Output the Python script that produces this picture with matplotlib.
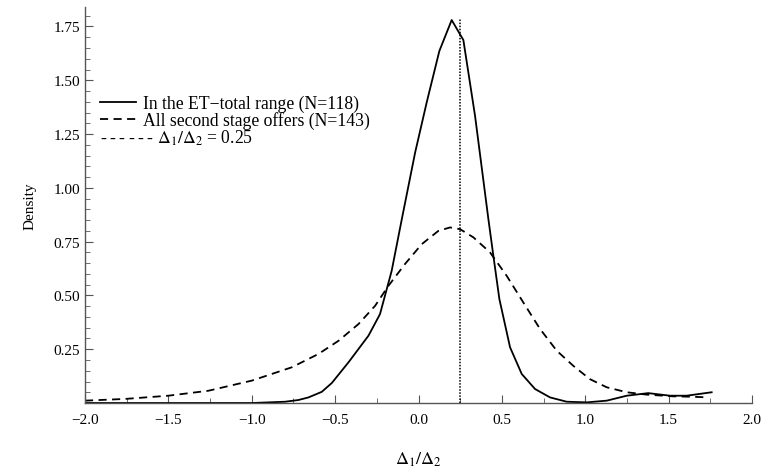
import matplotlib
matplotlib.use("Agg")
from matplotlib import pyplot as plt
from matplotlib.ticker import MultipleLocator

plt.rcParams['font.family'] = ['Liberation Serif', 'DejaVu Serif']
plt.rcParams['mathtext.fontset'] = 'stix'

# solid curve: in the ET-total range (N=118)
et_x = [-2.0, -1.5, -1.0, -0.80, -0.72, -0.66, -0.58, -0.52, -0.42, -0.30,
        -0.231, -0.161, -0.10, -0.02, 0.05, 0.125, 0.199, 0.269, 0.339, 0.419,
        0.449, 0.485, 0.549, 0.619, 0.699, 0.789, 0.889, 1.009, 1.129, 1.249,
        1.378, 1.508, 1.608, 1.758]
et_y = [0.0, 0.0, 0.0, 0.006, 0.014, 0.026, 0.052, 0.093, 0.189, 0.313,
        0.413, 0.614, 0.855, 1.165, 1.40, 1.636, 1.78, 1.687, 1.335, 0.855,
        0.684, 0.483, 0.259, 0.135, 0.065, 0.026, 0.006, 0.003, 0.011, 0.034,
        0.046, 0.034, 0.034, 0.050]

# dashed curve: all second stage offers (N=143)
all_x = [-2.0, -1.76, -1.50, -1.26, -1.0, -0.76, -0.60, -0.48, -0.36, -0.26,
         -0.18, -0.081, 0.019, 0.119, 0.189, 0.249, 0.329, 0.429, 0.529,
         0.628, 0.729, 0.829, 0.928, 1.028, 1.129, 1.249, 1.368, 1.528,
         1.648, 1.738]
all_y = [0.011, 0.019, 0.034, 0.057, 0.104, 0.166, 0.228, 0.289, 0.367, 0.452,
         0.545, 0.646, 0.738, 0.800, 0.816, 0.808, 0.770, 0.700, 0.591,
         0.468, 0.344, 0.243, 0.173, 0.111, 0.073, 0.050, 0.039, 0.031,
         0.029, 0.026]

ratio = 0.25
ratio_top = 1.79

fig = plt.figure(figsize=(7.63, 4.77), dpi=100)
ax = fig.add_axes([0.1114, 0.153, 0.8742, 0.83])

ax.plot(et_x, et_y, color="black", linewidth=1.3, label="In the ET\u2212total range (N=118)")
ax.plot(all_x, all_y, color="black", linewidth=1.3, dashes=(4.5, 3),
        label="All second stage offers (N=143)")
ax.vlines(ratio, 0, ratio_top, color="black", linewidth=1.1, linestyles=(0, (1, 1)))

ax.set_xlim(-2.0, 2.0)
ax.set_ylim(0, 1.84)
ax.xaxis.set_major_locator(MultipleLocator(0.5))
ax.xaxis.set_minor_locator(MultipleLocator(0.25))
ax.set_yticks([0.25, 0.5, 0.75, 1.0, 1.25, 1.5, 1.75])
ax.yaxis.set_minor_locator(MultipleLocator(0.05))
ax.xaxis.set_major_formatter(plt.FuncFormatter(lambda v, p: ("%.1f" % v).replace("-", "\u2212")))
ax.yaxis.set_major_formatter(plt.FuncFormatter(lambda v, p: "%.2f" % v))

for s in ["top", "right"]:
    ax.spines[s].set_visible(False)
for s in ["left", "bottom"]:
    ax.spines[s].set_color("#555555")
    ax.spines[s].set_linewidth(1.0)
ax.tick_params(which="both", direction="in", color="#555555", labelsize=11)
ax.tick_params(which="major", length=6)
ax.tick_params(which="minor", length=3.5)
ax.tick_params(axis="x", pad=7)

ax.set_ylabel("Density", fontsize=11, labelpad=12)
ax.set_xlabel(r"$\Delta_1/\Delta_2$", fontsize=13, labelpad=17)

ax.legend(loc="upper left", bbox_to_anchor=(0.0125, 0.797), frameon=False,
          fontsize=12.7, handlelength=2.0, handletextpad=0.4,
          borderaxespad=0, labelspacing=-0.05)
dash_run = "\u2009".join(["-"] * 6)
ax.text(0.0225, 0.658, dash_run + " $\\Delta_1/\\Delta_2$ = 0.25",
        transform=ax.transAxes, fontsize=12.7, va="baseline", ha="left")

fig.savefig("out.png", dpi=100)
